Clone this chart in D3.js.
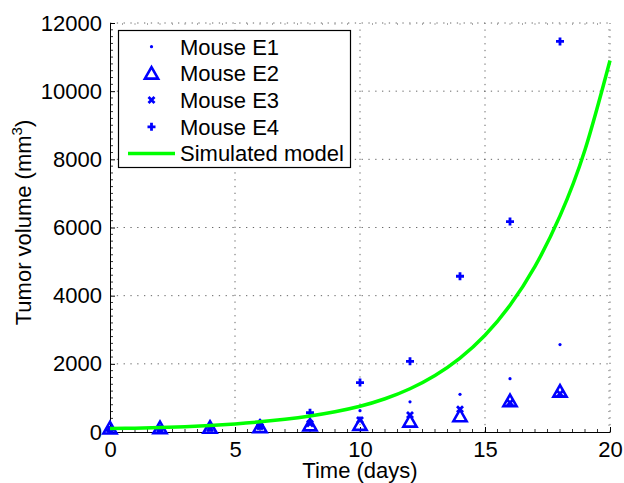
<!DOCTYPE html>
<html>
<head>
<meta charset="utf-8">
<script src="https://cdn.jsdelivr.net/npm/d3@7"></script>
<style>
  body { margin: 0; background: #fff; }
  svg { display: block; font-family: "Liberation Sans", Arial, Helvetica, sans-serif; }
</style>
</head>
<body>
<svg id="chart" width="624" height="483"></svg>
<script>
const days = [0, 2, 4, 6, 8, 10, 12, 14, 16, 18];
const mouseE1 = [80, 90, 120, 340, 480, 625, 885, 1105, 1565, 2565];
const mouseE2 = [110, 120, 130, 150, 200, 215, 310, 470, 910, 1190];
const mouseE3 = [80, 90, 110, 160, 250, 350, 500, 665, 860, 1120];
const mouseE4 = [60, 90, 140, 180, 565, 1450, 2075, 4570, 6175, 11460];

// Simulated model curve
const modelDays = [0, 1, 2, 3, 4, 5, 6, 7, 8, 9, 10, 11, 12, 13, 14, 15, 16, 17, 18, 19, 20];
const modelVolume = [100, 113, 130, 155, 190, 238, 298, 374, 470, 594, 755, 975, 1270, 1660, 2170, 2840, 3720, 4860, 6340, 8280, 10900];

// Axis ticks
const xTicks = [0, 5, 10, 15, 20];
const yTicks = [0, 2000, 4000, 6000, 8000, 10000, 12000];
const xLabel = "Time (days)";
const legendLabels = ["Mouse E1", "Mouse E2", "Mouse E3", "Mouse E4", "Simulated model"];

const BLUE = "#0000ff";
const GREEN = "#00ff00";

const margin = { left: 110, right: 14, top: 23, bottom: 51 };
const width = 624, height = 483;

const svg = d3.select("#chart");

const x = d3.scaleLinear().domain([0, 20]).range([margin.left, width - margin.right]);
const y = d3.scaleLinear().domain([0, 12000]).range([height - margin.bottom, margin.top]);

const [x0, x1] = x.range();
const [y0, y1] = y.range();

// Marker shapes
const marker = {
  dot: () => "M-1.6,0a1.6,1.6 0 1,0 3.2,0a1.6,1.6 0 1,0 -3.2,0",
  tri: () => "M0,-6.3L6.6,5.2L-6.6,5.2Z",
  times: () => "M-3,-3L3,3M-3,3L3,-3",
  plus: () => "M-4,0L4,0M0,-4L0,4",
};

// Grid (dotted)
const grid = svg.append("g").attr("stroke", "#666").attr("stroke-width", 1).attr("stroke-dasharray", "1.3,5.5");
grid.selectAll(".gx").data(xTicks.slice(1)).join("line")
  .attr("x1", d => x(d)).attr("x2", d => x(d)).attr("y1", y0).attr("y2", y1);
grid.selectAll(".gy").data(yTicks.slice(1)).join("line")
  .attr("y1", d => y(d)).attr("y2", d => y(d)).attr("x1", x0).attr("x2", x1);

// Minor ticks
const xMinor = d3.range(0, 20.01, 0.5).filter(d => d % 5 !== 0);
const yMinor = d3.range(0, 12001, 200).filter(d => d % 2000 !== 0);
const minor = svg.append("g").attr("stroke", "#333").attr("stroke-width", 1);
minor.selectAll(".mxb").data(xMinor).join("line")
  .attr("x1", d => x(d)).attr("x2", d => x(d)).attr("y1", y0).attr("y2", y0 - 3);
minor.selectAll(".mxt").data(xMinor).join("line").attr("stroke", "#aaa")
  .attr("x1", d => x(d)).attr("x2", d => x(d)).attr("y1", y1).attr("y2", y1 + 2);
minor.selectAll(".myl").data(yMinor).join("line")
  .attr("y1", d => y(d)).attr("y2", d => y(d)).attr("x1", x0).attr("x2", x0 + 3);
minor.selectAll(".myr").data(yMinor).join("line").attr("stroke", "#aaa")
  .attr("y1", d => y(d)).attr("y2", d => y(d)).attr("x1", x1).attr("x2", x1 - 2);

// Axes
const xAxis = d3.axisBottom(x).tickValues(xTicks).tickFormat(d3.format("d"))
  .tickSizeInner(-5).tickSizeOuter(0).tickPadding(9);
const yAxis = d3.axisLeft(y).tickValues(yTicks).tickFormat(d3.format("d"))
  .tickSizeInner(-5).tickSizeOuter(0).tickPadding(8);

svg.append("g").attr("transform", `translate(0,${y0})`).call(xAxis)
  .call(g => g.selectAll("text").attr("font-size", 22).attr("fill", "#000"))
  .call(g => g.selectAll("line, path").attr("stroke", "#000"));
svg.append("g").attr("transform", `translate(${x0},0)`).call(yAxis)
  .call(g => g.selectAll("text").attr("font-size", 22).attr("fill", "#000"))
  .call(g => g.selectAll("line, path").attr("stroke", "#000"));
svg.selectAll(".domain").attr("stroke-width", 1);

// Axis labels
svg.append("text").attr("x", (x0 + x1) / 2).attr("y", 478).attr("text-anchor", "middle")
  .attr("font-size", 22).text(xLabel);
const yl = svg.append("text").attr("transform", `translate(31,${(y0 + y1) / 2 - 5}) rotate(-90)`)
  .attr("text-anchor", "middle").attr("font-size", 22);
yl.append("tspan").text("Tumor volume (mm");
yl.append("tspan").attr("font-size", 15).attr("dy", -9).text("3");
yl.append("tspan").attr("dy", 9).text(")");

// Data series
const series = [
  { values: mouseE1, shape: "dot" },
  { values: mouseE2, shape: "tri" },
  { values: mouseE3, shape: "times" },
  { values: mouseE4, shape: "plus" },
];

const styleMarker = (sel, shape) => {
  if (shape === "dot") sel.attr("fill", BLUE).attr("stroke", "none");
  else sel.attr("fill", "none").attr("stroke", BLUE).attr("stroke-width", shape === "tri" ? 2.6 : 2.8);
};

series.forEach(s => {
  svg.append("g").selectAll("path").data(days).join("path")
    .attr("transform", (d, i) => `translate(${x(d)},${y(s.values[i])})`)
    .attr("d", marker[s.shape]())
    .call(styleMarker, s.shape);
});

// Model curve
const line = d3.line().x(d => x(d)).y((d, i) => y(modelVolume[i])).curve(d3.curveNatural);
svg.append("path").datum(modelDays).attr("d", line)
  .attr("fill", "none").attr("stroke", GREEN).attr("stroke-width", 3.5);

// Legend
const legend = svg.append("g");
legend.append("rect").attr("x", 118.5).attr("y", 30.5).attr("width", 232).attr("height", 137)
  .attr("fill", "#fff").attr("stroke", "#000").attr("stroke-width", 1.2);
const rowY = i => 46.7 + i * 26.7;
legendLabels.forEach((label, i) => {
  if (i < 4) {
    legend.append("path").attr("transform", `translate(151.5,${rowY(i)})`)
      .attr("d", marker[series[i].shape]()).call(styleMarker, series[i].shape);
  } else {
    legend.append("line").attr("x1", 128).attr("x2", 175).attr("y1", rowY(i)).attr("y2", rowY(i))
      .attr("stroke", GREEN).attr("stroke-width", 3.5);
  }
  legend.append("text").attr("x", 180).attr("y", rowY(i) + 7.8).attr("font-size", 22).text(label);
});
</script>
</body>
</html>
